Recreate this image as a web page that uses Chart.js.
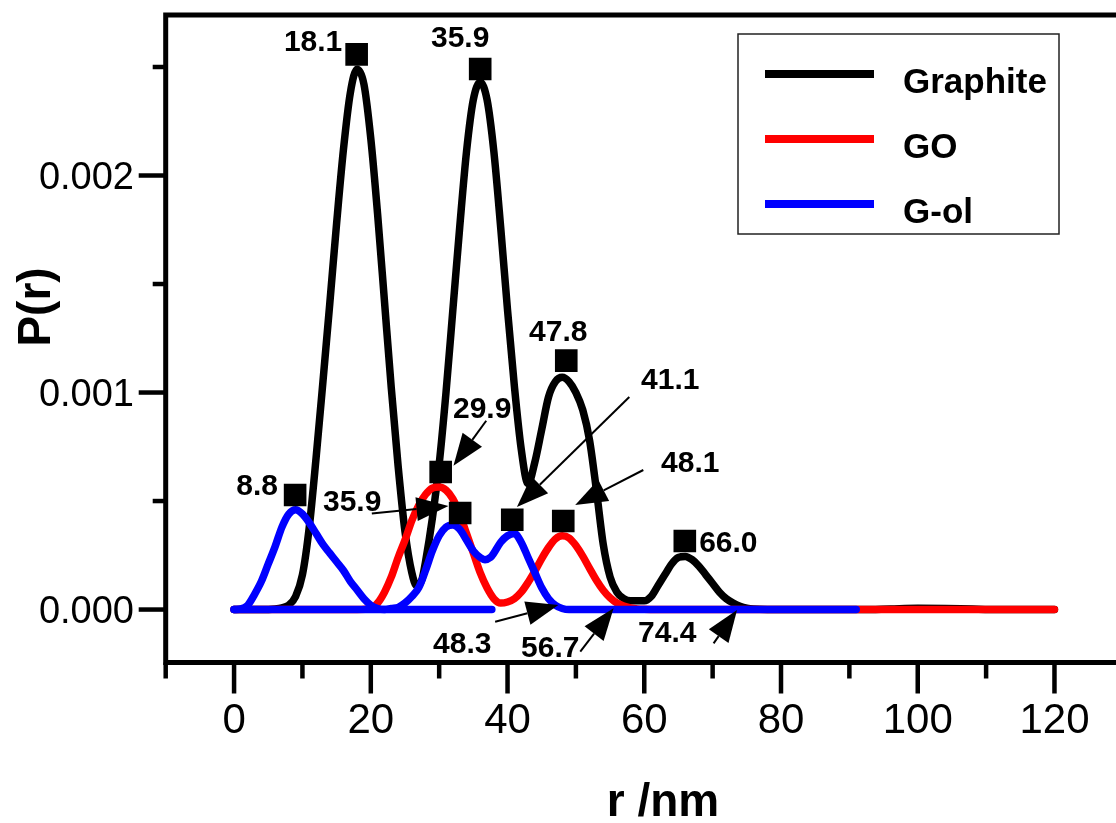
<!DOCTYPE html>
<html><head><meta charset="utf-8">
<script src="https://cdn.jsdelivr.net/npm/chart.js@4.4.1/dist/chart.umd.min.js"></script>
<style>html,body{margin:0;padding:0;background:#fff;overflow:hidden}canvas{display:block}</style>
</head><body>
<canvas id="c" width="1116" height="823"></canvas>
<script>
// ---------- data (r in nm, P(r)) ----------
const graphiteR = [0,2,4,6,7,8,9,10,11,12,13,14,15,16,17,18,19,20,21,22,23,24,25,26,26.7,27.5,28,29,30,31,32,33,34,35,36,37,38,39,40,41,42,43,44,45,46,47,48,49,50,51,52,53,54,55,56,57,58,59,60,61,62,63,64,65,66,67,68,69,70,71,72,73,74,75,76,78,85,92,96,100,104,108,112,120];
const graphiteP = [0,0,0,0.000003,0.000008,0.00002,0.00006,0.00016,0.00038,0.00070,0.00105,0.00141,0.00178,0.00212,0.00238,0.00249,0.00242,0.00217,0.00182,0.00142,0.00102,0.00066,0.00036,0.00017,0.00011,0.00014,0.00022,0.00042,0.00067,0.00100,0.00138,0.00176,0.00211,0.00235,0.00243,0.00235,0.00211,0.00176,0.00138,0.00103,0.00074,0.00058,0.00068,0.00083,0.00098,0.00105,0.00107,0.00105,0.00100,0.00092,0.00078,0.00055,0.00030,0.00015,0.00008,0.00005,0.00004,0.00004,0.00004,0.00006,0.00011,0.00016,0.00021,0.00024,0.000245,0.00023,0.00020,0.00016,0.00012,0.00008,0.00005,0.00003,0.000015,0.000006,0.000002,0,0,0,0.000003,0.000006,0.000005,0.000002,0,0];

const goR = [0,10,18,20,21,22,23,24,25,26,27,28,29,30,31,32,33,34,35,36,37,38,39,40,41,42,43,44,45,46,47,48,49,50,51,52,53,54,55,56,57,58,59,60,62,80,100,120];
const goP = [0,0,0,0.000005,0.00003,0.00008,0.00015,0.00024,0.00032,0.00041,0.00048,0.00053,0.00056,0.000565,0.00055,0.00051,0.00044,0.00035,0.00026,0.00017,0.00010,0.00005,0.00003,0.000035,0.00005,0.00008,0.000125,0.000177,0.000235,0.000286,0.000325,0.00034,0.00033,0.000295,0.000246,0.00019,0.000135,0.000089,0.000054,0.00003,0.000016,0.000008,0.000003,0.000001,0,0,0,0];

const golR = [0,1,2,3,4,5,6,7,8,9,10,11,12,13,14,15,16,17,18,19,20,21,22,23,24,25,26,27,28,29,30,31,32,33,34,35,36,36.7,37.5,38,39,40,41,42,43,44,45,46,47,48,49,60,70,80,91];
const golP = [0,0.000003,0.00002,0.00007,0.00013,0.00021,0.00029,0.00038,0.00044,0.00046,0.00044,0.00040,0.00035,0.00030,0.00026,0.00022,0.00018,0.00013,0.00009,0.00005,0.00002,0.000005,0,0.000005,0.00001,0.00003,0.00006,0.00010,0.00018,0.00027,0.00034,0.00038,0.00039,0.00037,0.00032,0.00027,0.00024,0.00023,0.00024,0.00026,0.00031,0.00034,0.00035,0.00031,0.00024,0.00017,0.00010,0.00005,0.00002,0.000005,0,0,0,0,0];

const golBaseR = [0,37.7];
const golBaseP = [0,0];

// peak markers
const markerR = [17.93,36.0,48.59,30.22,33.07,40.69,48.15,65.93,8.93];
const markerP = [0.002558,0.002491,0.001147,0.000634,0.000445,0.000414,0.000408,0.000316,0.000528];

// peak labels (text, anchor r, anchor P)
const labelText = ['18.1','35.9','47.8','41.1','29.9','48.1','66.0','8.8','35.9','48.3','56.7','74.4'];
const labelR = [11.56,33.07,47.42,63.81,36.29,66.73,72.30,3.37,17.27,33.37,46.25,63.37];
const labelP = [0.002624,0.002643,0.001288,0.001067,0.000933,0.000684,0.000316,0.000578,0.000505,-0.000150,-0.000168,-0.000099];

// arrows: from (r,P) -> tip (r,P)
const arrowFromR = [36.88,57.81,59.86,20.15,38.19,50.64,70.14];
const arrowFromP = [0.000870,0.000979,0.000643,0.000443,-0.000056,-0.000194,-0.000156];
const arrowToR   = [32.09,41.37,49.90,31.36,47.43,55.51,73.57];
const arrowToP   = [0.000663,0.000472,0.000482,0.000477,0.000021,0.000006,-0.000002];

// axes ticks
const xMajorTicks = [0,20,40,60,80,100,120];
const xMinorTicks = [-10,10,30,50,70,90,110];
const yMajorTicks = [0,0.001,0.002];
const yTickLabels = ['0.000','0.001','0.002'];
const yMinorTicks = [0.0005,0.0015,0.0025];

const seriesNames = ['Graphite','GO','G-ol'];
const seriesColors = ['#000000','#ff0000','#0000ff'];

const pts = (xs, ys) => xs.map((x, i) => ({x, y: ys[i]}));
const FONT = '"Liberation Sans", Arial, Helvetica, sans-serif';

const lineDs = (label, xs, ys, color, order) => ({
  label, data: pts(xs, ys), borderColor: color, backgroundColor: color,
  borderWidth: 7.5, pointRadius: 0, fill: false, cubicInterpolationMode: 'monotone',
  borderCapStyle: 'round', borderJoinStyle: 'round', order
});

const decor = {
  id: 'decor',
  afterDraw(chart) {
    const ctx = chart.ctx, xs = chart.scales.x, ys = chart.scales.y, a = chart.chartArea;
    ctx.save();
    ctx.strokeStyle = '#000'; ctx.fillStyle = '#000'; ctx.lineCap = 'butt';
    // frame
    ctx.lineWidth = 5;
    ctx.beginPath();
    ctx.moveTo(a.right + 5, a.top); ctx.lineTo(a.left, a.top); ctx.lineTo(a.left, a.bottom); ctx.lineTo(a.right + 5, a.bottom);
    ctx.stroke();
    // x ticks
    ctx.lineWidth = 4.5;
    xMajorTicks.forEach(v => { const px = xs.getPixelForValue(v); ctx.beginPath(); ctx.moveTo(px, a.bottom); ctx.lineTo(px, a.bottom + 31); ctx.stroke(); });
    xMinorTicks.forEach(v => { const px = xs.getPixelForValue(v); ctx.beginPath(); ctx.moveTo(px, a.bottom); ctx.lineTo(px, a.bottom + 16); ctx.stroke(); });
    yMajorTicks.forEach(v => { const py = ys.getPixelForValue(v); ctx.beginPath(); ctx.moveTo(a.left, py); ctx.lineTo(a.left - 27, py); ctx.stroke(); });
    yMinorTicks.forEach(v => { const py = ys.getPixelForValue(v); ctx.beginPath(); ctx.moveTo(a.left, py); ctx.lineTo(a.left - 13, py); ctx.stroke(); });
    // tick labels
    ctx.font = '42px ' + FONT; ctx.textAlign = 'center'; ctx.textBaseline = 'alphabetic';
    xMajorTicks.forEach(v => ctx.fillText(String(v), xs.getPixelForValue(v), 733));
    ctx.font = '38px ' + FONT; ctx.textAlign = 'right';
    yMajorTicks.forEach((v, i) => ctx.fillText(yTickLabels[i], 134, ys.getPixelForValue(v) + 13.5));
    // axis titles
    ctx.font = 'bold 46px ' + FONT; ctx.textAlign = 'center';
    ctx.fillText('r /nm', 663, 816);
    ctx.save(); ctx.translate(50, 307); ctx.rotate(-Math.PI / 2);
    ctx.fillText('P(r)', 0, 0); ctx.restore();
    // arrows
    arrowFromR.forEach((_, i) => {
      const x0 = xs.getPixelForValue(arrowFromR[i]), y0 = ys.getPixelForValue(arrowFromP[i]);
      const x1 = xs.getPixelForValue(arrowToR[i]), y1 = ys.getPixelForValue(arrowToP[i]);
      const ang = Math.atan2(y1 - y0, x1 - x0), L = 32, W = 12;
      const bx = x1 - L * Math.cos(ang), by = y1 - L * Math.sin(ang);
      ctx.lineWidth = 2;
      ctx.beginPath(); ctx.moveTo(x0, y0); ctx.lineTo(bx, by); ctx.stroke();
      ctx.beginPath(); ctx.moveTo(x1, y1);
      ctx.lineTo(bx + W * Math.sin(ang), by - W * Math.cos(ang));
      ctx.lineTo(bx - W * Math.sin(ang), by + W * Math.cos(ang));
      ctx.closePath(); ctx.fill();
    });
    // labels
    ctx.font = 'bold 30px ' + FONT; ctx.textAlign = 'center'; ctx.textBaseline = 'alphabetic';
    labelText.forEach((t, i) => ctx.fillText(t, xs.getPixelForValue(labelR[i]), ys.getPixelForValue(labelP[i]) + 11));
    // legend
    ctx.lineWidth = 1.5; ctx.strokeStyle = '#222';
    ctx.strokeRect(738, 34, 321, 200);
    ctx.font = 'bold 35px ' + FONT; ctx.textAlign = 'left';
    seriesNames.forEach((n, i) => {
      const y = 74 + i * 65;
      ctx.strokeStyle = seriesColors[i]; ctx.lineWidth = 8;
      ctx.beginPath(); ctx.moveTo(765, y); ctx.lineTo(874, y); ctx.stroke();
      ctx.fillStyle = '#000'; ctx.fillText(n, 903, y + 19);
    });
    ctx.restore();
  }
};

new Chart(document.getElementById('c'), {
  type: 'line',
  data: {
    datasets: [
      {label: 'peaks', data: pts(markerR, markerP), showLine: false, pointStyle: 'rect', pointRadius: 16, pointBackgroundColor: '#000', pointBorderWidth: 0, order: 0},
      lineDs('G-ol base', golBaseR, golBaseP, seriesColors[2], 1),
      lineDs(seriesNames[2], golR, golP, seriesColors[2], 2),
      lineDs(seriesNames[1], goR, goP, seriesColors[1], 3),
      lineDs(seriesNames[0], graphiteR, graphiteP, seriesColors[0], 4)
    ]
  },
  options: {
    responsive: false, animation: false, events: [],
    layout: {autoPadding: false, padding: {left: 165.7, right: 0, top: 15, bottom: 160.5}},
    scales: {
      x: {type: 'linear', display: false, min: -10, max: 129},
      y: {type: 'linear', display: false, min: -0.000244, max: 0.0027396}
    },
    plugins: {legend: {display: false}, tooltip: {enabled: false}}
  },
  plugins: [decor]
});
</script>
</body></html>
